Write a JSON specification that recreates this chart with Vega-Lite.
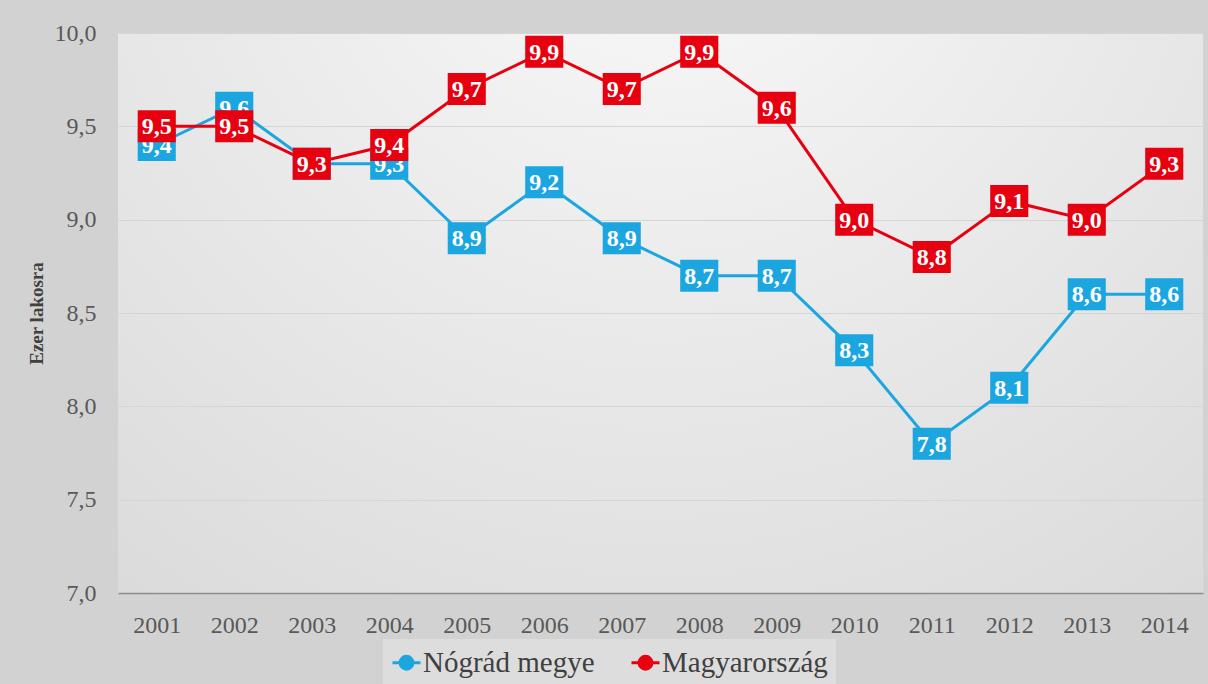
{
  "$schema": "https://vega.github.io/schema/vega-lite/v6.json",
  "width": 1085,
  "height": 560,
  "autosize": {"type": "none"},
  "padding": {"left": 118, "top": 33, "right": 5, "bottom": 91},
  "background": "#d2d2d2",
  "view": {
    "stroke": null,
    "fill": {
      "gradient": "radial",
      "x1": 0.5, "y1": 0.08, "r1": 0,
      "x2": 0.5, "y2": 0.08, "r2": 1.0,
      "stops": [
        {"offset": 0, "color": "#fbfbfb"},
        {"offset": 0.35, "color": "#ededed"},
        {"offset": 1, "color": "#d5d5d5"}
      ]
    }
  },
  "config": {
    "locale": {"number": {"decimal": ",", "thousands": " ", "grouping": [3], "currency": ["", " Ft"]}},
    "font": "Liberation Serif"
  },
  "data": {
    "values": [
      {"year": "2001", "series": "Nógrád megye", "value": 9.4},
      {"year": "2002", "series": "Nógrád megye", "value": 9.6},
      {"year": "2003", "series": "Nógrád megye", "value": 9.3},
      {"year": "2004", "series": "Nógrád megye", "value": 9.3},
      {"year": "2005", "series": "Nógrád megye", "value": 8.9},
      {"year": "2006", "series": "Nógrád megye", "value": 9.2},
      {"year": "2007", "series": "Nógrád megye", "value": 8.9},
      {"year": "2008", "series": "Nógrád megye", "value": 8.7},
      {"year": "2009", "series": "Nógrád megye", "value": 8.7},
      {"year": "2010", "series": "Nógrád megye", "value": 8.3},
      {"year": "2011", "series": "Nógrád megye", "value": 7.8},
      {"year": "2012", "series": "Nógrád megye", "value": 8.1},
      {"year": "2013", "series": "Nógrád megye", "value": 8.6},
      {"year": "2014", "series": "Nógrád megye", "value": 8.6},
      {"year": "2001", "series": "Magyarország", "value": 9.5},
      {"year": "2002", "series": "Magyarország", "value": 9.5},
      {"year": "2003", "series": "Magyarország", "value": 9.3},
      {"year": "2004", "series": "Magyarország", "value": 9.4},
      {"year": "2005", "series": "Magyarország", "value": 9.7},
      {"year": "2006", "series": "Magyarország", "value": 9.9},
      {"year": "2007", "series": "Magyarország", "value": 9.7},
      {"year": "2008", "series": "Magyarország", "value": 9.9},
      {"year": "2009", "series": "Magyarország", "value": 9.6},
      {"year": "2010", "series": "Magyarország", "value": 9.0},
      {"year": "2011", "series": "Magyarország", "value": 8.8},
      {"year": "2012", "series": "Magyarország", "value": 9.1},
      {"year": "2013", "series": "Magyarország", "value": 9.0},
      {"year": "2014", "series": "Magyarország", "value": 9.3}
    ]
  },
  "encoding": {
    "x": {
      "field": "year",
      "type": "ordinal",
      "scale": {"type": "point", "padding": 0.5},
      "axis": {
        "title": null,
        "labelAngle": 0,
        "labelFont": "Liberation Serif",
        "labelFontSize": 24,
        "labelColor": "#595959",
        "labelPadding": 20,
        "ticks": false,
        "domainColor": "#8c8c8c",
        "domainWidth": 1.5,
        "grid": false
      }
    },
    "y": {
      "field": "value",
      "type": "quantitative",
      "scale": {"domain": [7, 10], "nice": false, "zero": false},
      "axis": {
        "title": "Ezer lakosra",
        "titleFont": "Liberation Serif",
        "titleFontSize": 19,
        "titleFontWeight": "bold",
        "titleColor": "#404040",
        "titlePadding": 8,
        "values": [7, 7.5, 8, 8.5, 9, 9.5, 10],
        "format": ".1f",
        "labelFont": "Liberation Serif",
        "labelFontSize": 24,
        "labelColor": "#595959",
        "labelPadding": 22,
        "ticks": false,
        "domain": false,
        "grid": true,
        "gridColor": "#d5d5d5",
        "gridWidth": 1
      }
    }
  },
  "layer": [
    {
      "mark": {"type": "line", "strokeWidth": 3},
      "encoding": {
        "color": {
          "field": "series",
          "type": "nominal",
          "scale": {"domain": ["Nógrád megye", "Magyarország"], "range": ["#1ba6e0", "#e60010"]},
          "legend": {
            "orient": "none",
            "legendX": 265,
            "legendY": 606,
            "direction": "horizontal",
            "title": null,
            "labelFont": "Liberation Serif",
            "labelFontSize": 29,
            "labelColor": "#404040",
            "labelOffset": 1,
            "labelLimit": 400,
            "columnPadding": 30,
            "padding": 8,
            "fillColor": "rgba(255,255,255,0.25)",
            "symbolType": "M-1,0H1M-0.46,0A0.46,0.46,0,1,1,0.46,0A0.46,0.46,0,1,1,-0.46,0Z",
            "symbolSize": 784,
            "symbolStrokeWidth": 3,
            "encode": {"symbols": {"update": {"fill": {"scale": "color", "field": "value"}}}}
          }
        }
      }
    },
    {
      "transform": [{"filter": "datum.series === 'Nógrád megye'"}],
      "mark": {"type": "point", "shape": "M-1.19,-1H1.19V1H-1.19Z", "size": 1024, "filled": true, "opacity": 1, "color": "#1ba6e0"}
    },
    {
      "transform": [{"filter": "datum.series === 'Nógrád megye'"}],
      "mark": {"type": "text", "font": "Liberation Serif", "fontSize": 24, "fontWeight": "bold", "color": "#ffffff", "baseline": "middle", "dy": 1},
      "encoding": {"text": {"field": "value", "type": "quantitative", "format": ".1f"}}
    },
    {
      "transform": [{"filter": "datum.series === 'Magyarország'"}],
      "mark": {"type": "point", "shape": "M-1.19,-1H1.19V1H-1.19Z", "size": 1024, "filled": true, "opacity": 1, "color": "#e60010"}
    },
    {
      "transform": [{"filter": "datum.series === 'Magyarország'"}],
      "mark": {"type": "text", "font": "Liberation Serif", "fontSize": 24, "fontWeight": "bold", "color": "#ffffff", "baseline": "middle", "dy": 1},
      "encoding": {"text": {"field": "value", "type": "quantitative", "format": ".1f"}}
    }
  ]
}
